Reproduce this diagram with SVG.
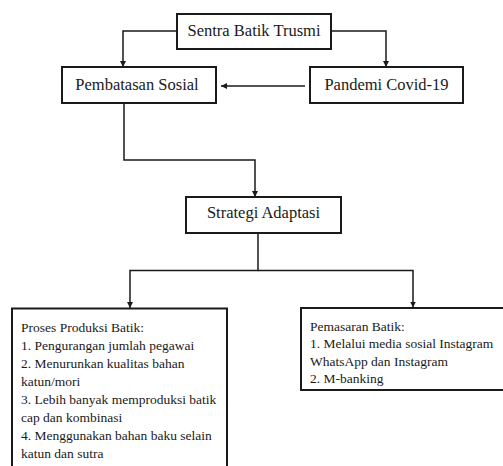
<svg xmlns="http://www.w3.org/2000/svg" width="503" height="466" viewBox="0 0 503 466">
<style>
.box{fill:#fff;stroke:#1a1a1a;stroke-width:2}
.t{font-family:"Liberation Serif","Times New Roman",serif;fill:#1a1a1a}
.h{font-size:16.5px;text-anchor:middle}
.b{font-size:13.5px}
.c{fill:none;stroke:#1a1a1a;stroke-width:1.5;marker-end:url(#ah)}
</style>
<defs>
<marker id="ah" markerUnits="userSpaceOnUse" markerWidth="8" markerHeight="8" refX="6" refY="3" orient="auto">
<path d="M0,0 L6,3 L0,6 Z" fill="#1a1a1a"/>
</marker>
</defs>
<rect width="503" height="466" fill="#fff"/>
<g id="connectors">
<path class="c" d="M177,31 H123 V67"/>
<path class="c" d="M331,31 H386 V67"/>
<path class="c" d="M305,86 H221"/>
<path class="c" d="M124,103 V160 H255 V197"/>
<path class="c" d="M258,233 V270.5 H130 V308"/>
<path class="c" d="M258,270.5 H413 V307.5"/>
</g>
<g id="sentra">
<rect class="box" x="177" y="14" width="154" height="35"/>
<text class="t h" x="254" y="36">Sentra Batik Trusmi</text>
</g>
<g id="pembatasan">
<rect class="box" x="62" y="67" width="154" height="36"/>
<text class="t h" x="137" y="89.5">Pembatasan Sosial</text>
</g>
<g id="pandemi">
<rect class="box" x="310" y="67" width="153" height="36"/>
<text class="t h" x="386.5" y="89.5">Pandemi Covid-19</text>
</g>
<g id="strategi">
<rect class="box" x="186" y="197" width="155" height="36"/>
<text class="t h" x="263.5" y="217.5">Strategi Adaptasi</text>
</g>
<g id="produksi">
<rect class="box" x="12" y="308.5" width="215" height="180"/>
<text class="t b" x="21" y="331.5">Proses Produksi Batik:</text>
<text class="t b" x="21" y="349.5">1. Pengurangan jumlah pegawai</text>
<text class="t b" x="21" y="367.5">2. Menurunkan kualitas bahan</text>
<text class="t b" x="21" y="385.5">katun/mori</text>
<text class="t b" x="21" y="403.5">3. Lebih banyak memproduksi batik</text>
<text class="t b" x="21" y="421.5">cap dan kombinasi</text>
<text class="t b" x="21" y="440">4. Menggunakan bahan baku selain</text>
<text class="t b" x="21" y="458">katun dan sutra</text>
</g>
<g id="pemasaran">
<rect class="box" x="301" y="308" width="220" height="82"/>
<text class="t b" x="310" y="330.5">Pemasaran Batik:</text>
<text class="t b" x="310" y="348">1. Melalui media sosial Instagram</text>
<text class="t b" x="310" y="365.5">WhatsApp dan Instagram</text>
<text class="t b" x="310" y="383">2. M-banking</text>
</g>
</svg>
